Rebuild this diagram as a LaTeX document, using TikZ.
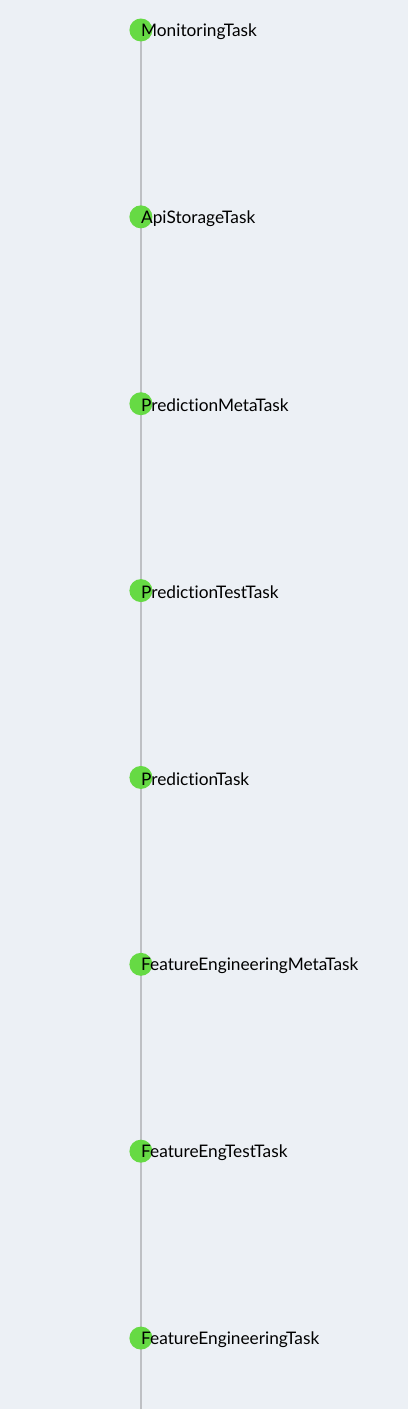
\documentclass[tikz,border=0pt]{standalone}
\usepackage{fontspec}
\setmainfont{Lato}[Ligatures=NoCommon]
\usepackage{tikz}
\usetikzlibrary{positioning, backgrounds}
\definecolor{pagebg}{RGB}{236, 240, 245}
\definecolor{taskgreen}{RGB}{102, 218, 68}
\definecolor{linegray}{RGB}{190, 192, 196}
\tikzset{
  taskdot/.style={circle, fill=taskgreen, minimum size=23pt, inner sep=0pt},
  tasklabel/.style={anchor=west, inner sep=0pt, yshift=-1.5pt, font=\fontsize{17.3}{19}\selectfont, text=black}
}

\begin{document}
\begin{tikzpicture}[x=1pt, y=-1pt]
  % task dots
  \node[taskdot] (mon) at (141, 30) {};
  \node[taskdot] (api) at (141, 217) {};
  \node[taskdot] (pmeta) at (141, 404) {};
  \node[taskdot] (ptest) at (141, 591) {};
  \node[taskdot] (pred) at (141, 778) {};
  \node[taskdot] (fmeta) at (141, 965) {};
  \node[taskdot] (ftest) at (141, 1152) {};
  \node[taskdot] (feng) at (141, 1339) {};
  \coordinate (bot) at (141, 1410);

  % labels
  \node[tasklabel] at (mon.center) {MonitoringTask};
  \node[tasklabel] at (api.center) {ApiStorageTask};
  \node[tasklabel] at (pmeta.center) {PredictionMetaTask};
  \node[tasklabel] at (ptest.center) {PredictionTestTask};
  \node[tasklabel] at (pred.center) {PredictionTask};
  \node[tasklabel] at (fmeta.center) {FeatureEngineeringMetaTask};
  \node[tasklabel] at (ftest.center) {FeatureEngTestTask};
  \node[tasklabel] at (feng.center) {FeatureEngineeringTask};

  % page and timeline
  \begin{scope}[on background layer]
    \fill[pagebg] (0,0) rectangle (408,1410);
    \draw[linegray, line width=2pt] (mon.center) -- (bot);
  \end{scope}
\end{tikzpicture}
\end{document}
